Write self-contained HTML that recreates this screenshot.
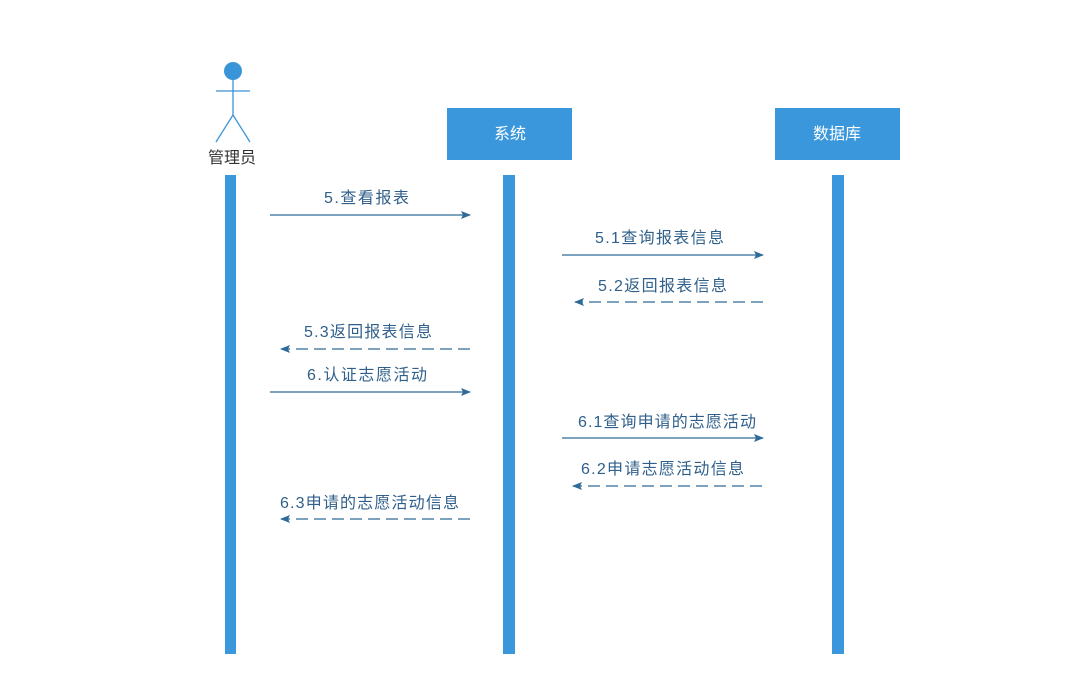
<!DOCTYPE html>
<html><head><meta charset="utf-8"><style>
html,body{margin:0;padding:0;background:#fff;}
svg text{font-family:"Liberation Sans","Noto Sans CJK SC",sans-serif;}
</style></head><body>
<svg width="1083" height="682" viewBox="0 0 1083 682" xmlns="http://www.w3.org/2000/svg">
<defs>
<marker id="a" markerWidth="10" markerHeight="8" refX="9" refY="4" orient="auto" markerUnits="userSpaceOnUse">
<path d="M0,0 L10,4 L0,8 L2,4 Z" fill="#2e6a98"/></marker>
</defs>
<g stroke="#3a95d8" stroke-width="1.3" fill="none">
<line x1="233" y1="80" x2="233" y2="115"/>
<line x1="216" y1="91" x2="250" y2="91"/>
<line x1="233" y1="115" x2="216" y2="142"/>
<line x1="233" y1="115" x2="250" y2="142"/>
</g>
<circle cx="233" cy="71" r="9" fill="#3a95d8"/>
<text x="232" y="163" font-size="16" fill="#333" text-anchor="middle">管理员</text>
<rect x="447" y="108" width="125" height="52" fill="#3a97db"/>
<text x="510" y="139" font-size="16" fill="#fff" text-anchor="middle">系统</text>
<rect x="775" y="108" width="125" height="52" fill="#3a97db"/>
<text x="837" y="139" font-size="16" fill="#fff" text-anchor="middle">数据库</text>
<rect x="225" y="175" width="11" height="479" fill="#3a97db"/>
<rect x="503" y="175" width="12" height="479" fill="#3a97db"/>
<rect x="832" y="175" width="12" height="479" fill="#3a97db"/>
<g stroke="#2e6a98" stroke-width="1.2" marker-end="url(#a)">
<line x1="270" y1="215" x2="470" y2="215"/>
<line x1="562" y1="255" x2="763" y2="255"/>
<line x1="763" y1="302" x2="575" y2="302" stroke-dasharray="12,6"/>
<line x1="470" y1="349" x2="281" y2="349" stroke-dasharray="12,6"/>
<line x1="270" y1="392" x2="470" y2="392"/>
<line x1="562" y1="438" x2="763" y2="438"/>
<line x1="762" y1="486" x2="573" y2="486" stroke-dasharray="12,6"/>
<line x1="470" y1="519" x2="281" y2="519" stroke-dasharray="12,6"/>
</g>
<g font-size="16" fill="#2f5f8a">
<text x="324" y="203" textLength="85">5.查看报表</text>
<text x="595" y="243" textLength="129">5.1查询报表信息</text>
<text x="598" y="291" textLength="129">5.2返回报表信息</text>
<text x="304" y="337" textLength="128">5.3返回报表信息</text>
<text x="307" y="380" textLength="120">6.认证志愿活动</text>
<text x="578" y="427" textLength="178">6.1查询申请的志愿活动</text>
<text x="581" y="474" textLength="163">6.2申请志愿活动信息</text>
<text x="280" y="508" textLength="179">6.3申请的志愿活动信息</text>
</g>
</svg>
</body></html>
